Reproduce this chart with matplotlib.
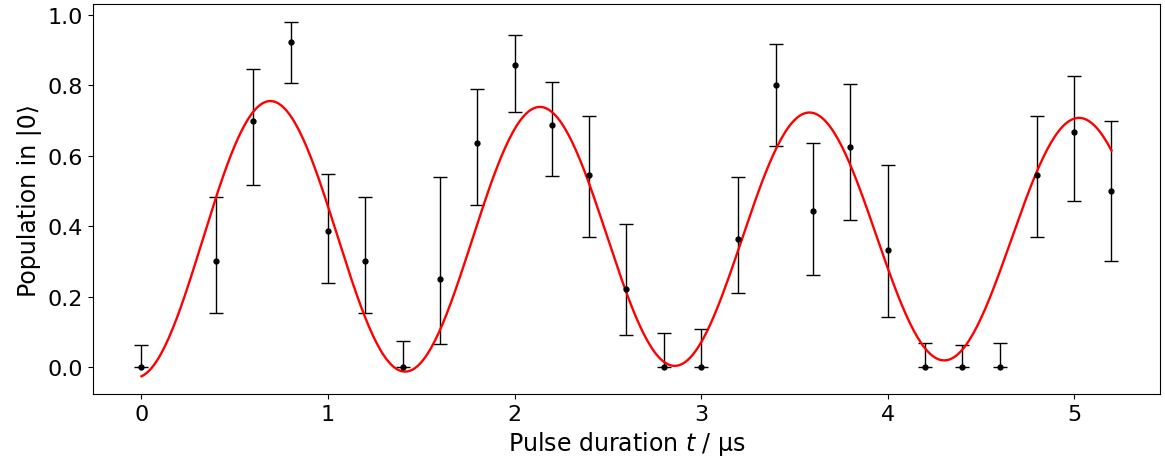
import numpy as np
import matplotlib
matplotlib.use("Agg")
import matplotlib.pyplot as plt

# measured populations and asymmetric error bar ends
t_data = [0.0, 0.4, 0.6, 0.8, 1.0, 1.2, 1.4, 1.6, 1.8, 2.0, 2.2, 2.4, 2.6,
          2.8, 3.0, 3.2, 3.4, 3.6, 3.8, 4.0, 4.2, 4.4, 4.6, 4.8, 5.0, 5.2]
pop = [0.0, 0.300, 0.700, 0.923, 0.385, 0.300, 0.0, 0.250, 0.636, 0.857,
       0.688, 0.545, 0.222, 0.0, 0.0, 0.364, 0.800, 0.444, 0.625, 0.333,
       0.0, 0.0, 0.0, 0.545, 0.667, 0.500]
pop_low = [0.0, 0.152, 0.517, 0.807, 0.238, 0.152, 0.0, 0.064, 0.459, 0.725,
           0.544, 0.370, 0.092, 0.0, 0.0, 0.209, 0.629, 0.262, 0.419, 0.143,
           0.0, 0.0, 0.0, 0.370, 0.472, 0.300]
pop_high = [0.061, 0.483, 0.847, 0.981, 0.547, 0.483, 0.074, 0.539, 0.791, 0.943,
            0.811, 0.712, 0.407, 0.095, 0.109, 0.539, 0.919, 0.637, 0.804, 0.573,
            0.067, 0.061, 0.067, 0.712, 0.828, 0.699]

# damped Rabi fit parameters (offset, amplitude, period, time shift, decay)
fit_offset = 0.367
fit_amp = 0.397
fit_period = 1.445
fit_t0 = -0.03
fit_tau = 33.0

pop = np.array(pop)
yerr = [pop - np.array(pop_low), np.array(pop_high) - pop]

t_fit = np.linspace(0, 5.2, 500)
y_fit = fit_offset - fit_amp * np.exp(-t_fit / fit_tau) * np.cos(2 * np.pi * (t_fit - fit_t0) / fit_period)

fig, ax = plt.subplots(figsize=(11.65, 4.64), dpi=100)
fig.subplots_adjust(left=0.0798, right=0.9957, top=0.989, bottom=0.1487)

ax.errorbar(t_data, pop, yerr=yerr, fmt='o', color='k', ms=3.5,
            ecolor='k', elinewidth=1, capsize=5, capthick=1)
ax.plot(t_fit, y_fit, color='red', lw=1.7)

ax.set_xlabel("Pulse duration $t$ / μs", fontsize=17)
ax.set_ylabel("Population in |0⟩", fontsize=17)
ax.tick_params(labelsize=16)

fig.savefig("out.png")
